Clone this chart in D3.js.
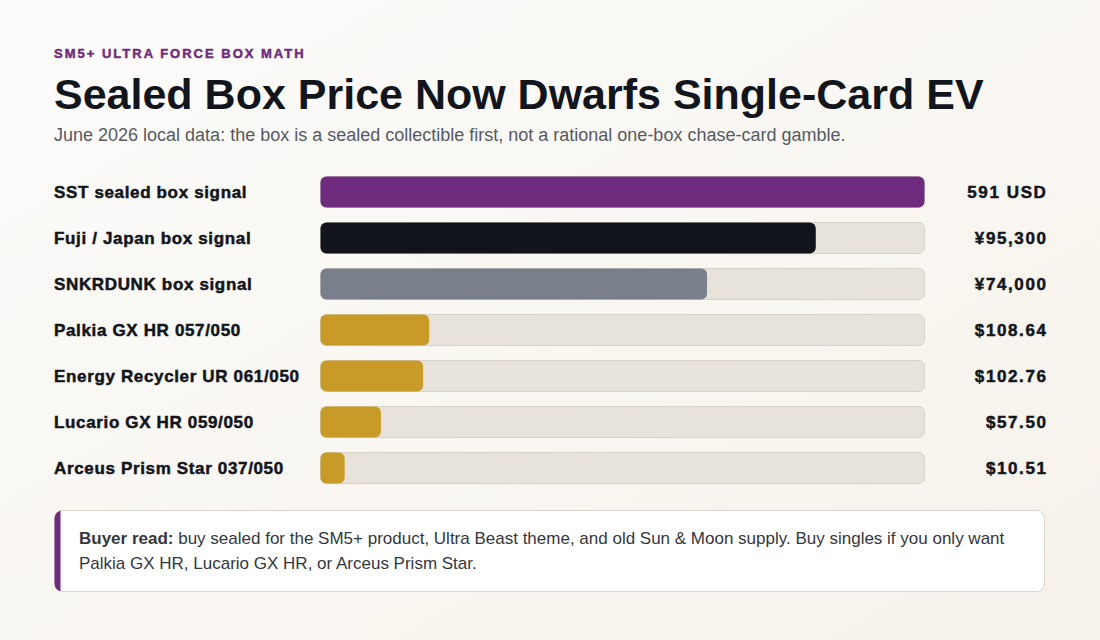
<!DOCTYPE html>
<html>
<head>
<meta charset="utf-8">
<script src="https://cdn.jsdelivr.net/npm/d3@7/dist/d3.min.js"></script>
<style>
  html, body { margin: 0; padding: 0; }
  body { width: 1100px; height: 640px; overflow: hidden; font-family: "Liberation Sans", Arial, Helvetica, sans-serif; }
  svg { display: block; }
</style>
</head>
<body>
<svg id="chart" width="1100" height="640"></svg>
<script>
// ---- data ----
const categories = [
  "SST sealed box signal",
  "Fuji / Japan box signal",
  "SNKRDUNK box signal",
  "Palkia GX HR 057/050",
  "Energy Recycler UR 061/050",
  "Lucario GX HR 059/050",
  "Arceus Prism Star 037/050"
];
const valueLabels = ["591 USD", "¥95,300", "¥74,000", "$108.64", "$102.76", "$57.50", "$10.51"];
const barShare = [100, 82, 64, 18, 17, 10, 4];   // relative bar length, percent of track
const barColors = ["#6f2c7e", "#11151b", "#7a808b", "#c89b28", "#c89b28", "#c89b28", "#c89b28"];
const kicker = "SM5+ ULTRA FORCE BOX MATH";
const title = "Sealed Box Price Now Dwarfs Single-Card EV";
const subtitle = "June 2026 local data: the box is a sealed collectible first, not a rational one-box chase-card gamble.";
const noteLead = "Buyer read:";
const noteLines = [
  " buy sealed for the SM5+ product, Ultra Beast theme, and old Sun & Moon supply. Buy singles if you only want",
  "Palkia GX HR, Lucario GX HR, or Arceus Prism Star."
];

// ---- drawing ----
const svg = d3.select("#chart");
const W = 1100, H = 640;

const defs = svg.append("defs");
const bg = defs.append("linearGradient").attr("id", "bg")
  .attr("x1", "0").attr("y1", "0").attr("x2", "1").attr("y2", "1");
bg.append("stop").attr("offset", "0%").attr("stop-color", "#fdfcfb");
bg.append("stop").attr("offset", "100%").attr("stop-color", "#f6f2ea");
svg.append("rect").attr("width", W).attr("height", H).attr("fill", "url(#bg)");

// header
svg.append("text").attr("x", 54).attr("y", 58)
  .attr("fill", "#6f2c7e").attr("stroke", "#6f2c7e").attr("stroke-width", 0.5)
  .attr("font-size", 13).attr("font-weight", 700)
  .attr("letter-spacing", "2px").text(kicker);
svg.append("text").attr("x", 54).attr("y", 109)
  .attr("fill", "#12161c").attr("font-size", 43).attr("font-weight", 700)
  .text(title);
svg.append("text").attr("x", 54).attr("y", 141)
  .attr("fill", "#555a60").attr("font-size", 18)
  .text(subtitle);

// scales
const x = d3.scaleLinear().domain([0, 100]).range([320.5, 924.5]);
const y = d3.scaleBand().domain(categories).range([169, 491]).paddingInner(0.326).paddingOuter(0.163);

const rows = svg.append("g").selectAll("g").data(categories).join("g")
  .attr("transform", d => `translate(0,${y(d)})`);

const bh = y.bandwidth();

rows.append("text").attr("x", 54).attr("y", bh / 2).attr("dy", "0.36em")
  .attr("fill", "#12161c").attr("stroke", "#12161c").attr("stroke-width", 0.5)
  .attr("font-size", 17).attr("font-weight", 700).attr("letter-spacing", "0.65px")
  .text(d => d);

rows.append("rect")
  .attr("x", x(0)).attr("y", 0)
  .attr("width", x(100) - x(0)).attr("height", bh)
  .attr("rx", 6).attr("fill", "#e8e3da").attr("stroke", "#d8d2c6").attr("stroke-width", 1);

rows.append("rect")
  .attr("x", x(0)).attr("y", 0)
  .attr("width", (d, i) => x(barShare[i]) - x(0)).attr("height", bh)
  .attr("rx", 6).attr("fill", (d, i) => barColors[i]);

rows.append("text").attr("x", 1047.5).attr("y", bh / 2).attr("dy", "0.36em")
  .attr("text-anchor", "end")
  .attr("fill", "#12161c").attr("stroke", "#12161c").attr("stroke-width", 0.5)
  .attr("font-size", 17).attr("font-weight", 700).attr("letter-spacing", "1.6px")
  .text((d, i) => valueLabels[i]);

// note box
const nb = { x: 54.5, y: 510.5, w: 990, h: 81 };
defs.append("clipPath").attr("id", "noteclip").append("rect")
  .attr("x", nb.x).attr("y", nb.y).attr("width", nb.w).attr("height", nb.h).attr("rx", 8);
svg.append("rect").attr("x", nb.x).attr("y", nb.y).attr("width", nb.w).attr("height", nb.h)
  .attr("rx", 8).attr("fill", "#ffffff").attr("stroke", "#d9d5cd").attr("stroke-width", 1);
svg.append("rect").attr("x", nb.x - 1).attr("y", nb.y - 1).attr("width", 7).attr("height", nb.h + 2)
  .attr("fill", "#6f2c7e").attr("clip-path", "url(#noteclip)");

const t1 = svg.append("text").attr("x", 79).attr("y", 544)
  .attr("fill", "#33373d").attr("font-size", 17);
t1.append("tspan").attr("font-weight", 700).text(noteLead);
t1.append("tspan").text(noteLines[0]);
svg.append("text").attr("x", 79).attr("y", 569)
  .attr("fill", "#33373d").attr("font-size", 17).text(noteLines[1]);
</script>
</body>
</html>
